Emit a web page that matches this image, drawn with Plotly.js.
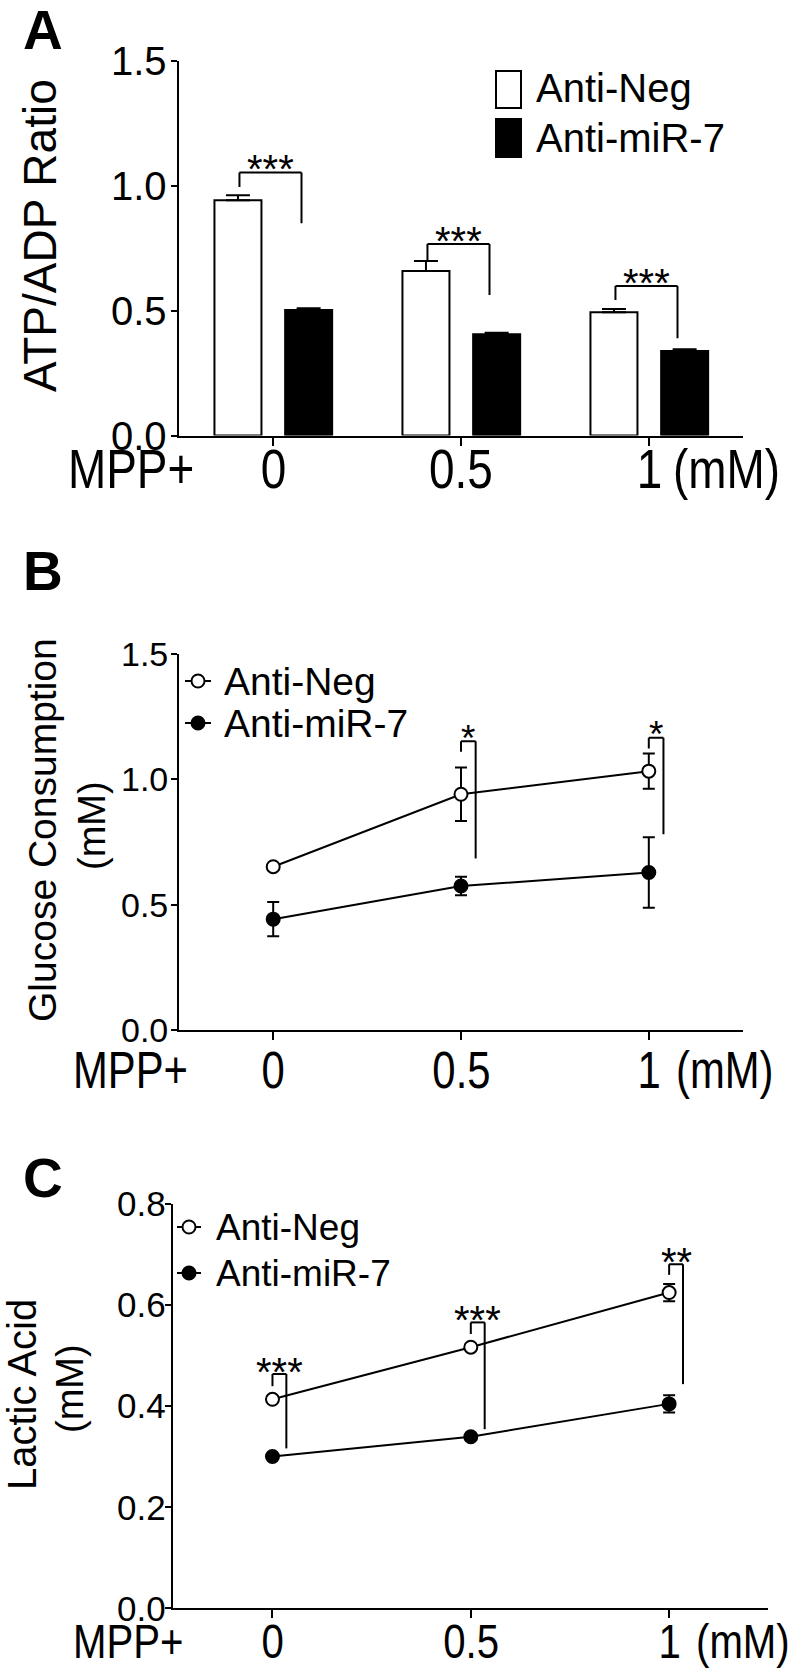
<!DOCTYPE html>
<html><head><meta charset="utf-8">
<script src="https://cdn.plot.ly/plotly-3.0.1.min.js"></script>
<style>html,body{margin:0;padding:0;background:#fff}</style>
</head><body><div id="chart" style="width:800px;height:1670px"></div>
<script>
// ---------------- data ----------------
const doses = ['0', '0.5', '1'];
const seriesNames = ['Anti-Neg', 'Anti-miR-7'];
const doseUnit = '(mM)';
const treatLabel = 'MPP+';

// A: ATP/ADP ratio (mean, +SEM)
const atpNeg = [0.942, 0.658, 0.493];
const atpNegErr = [0.020, 0.040, 0.013];
const atpMir = [0.502, 0.405, 0.338];
const atpMirErr = [0.007, 0.006, 0.007];

// B: glucose consumption (mM)
const glucNeg = [0.651, 0.940, 1.032];
const glucNegErr = [0.010, 0.107, 0.070];
const glucMir = [0.442, 0.574, 0.628];
const glucMirErr = [0.068, 0.037, 0.141];

// C: lactic acid (mM)
const lacNeg = [0.413, 0.516, 0.624];
const lacNegErr = [0.006, 0.006, 0.017];
const lacMir = [0.300, 0.339, 0.404];
const lacMirErr = [0.005, 0.005, 0.017];

// y tick values
const yTicksA = [0, 0.5, 1.0, 1.5];
const yTicksB = [0, 0.5, 1.0, 1.5];
const yTicksC = [0, 0.2, 0.4, 0.6, 0.8];

// significance marks
const sigA = ['***', '***', '***'];
const sigB = ['', '*', '*'];
const sigC = ['***', '***', '**'];

// bracket levels (value units): horizontal bar, end of left leg, end of right leg
const brTopA = [1.053, 0.766, 0.598], brLeftA = [0.995, 0.698, 0.542], brRightA = [0.849, 0.562, 0.389];
const brTopB = [null, 1.151, 1.165], brLeftB = [null, 1.109, 1.122], brRightB = [null, 0.684, 0.781];
const brTopC = [0.463, 0.565, 0.680], brLeftC = [0.439, 0.542, 0.659], brRightC = [0.316, 0.354, 0.443];

// ---------------- fonts ----------------
function fontAvailable(name) {
  const ctx = document.createElement('canvas').getContext('2d');
  const sample = 'MPP+ 0.5 (mM) Anti-miR-7';
  return ['monospace', 'serif'].every(base => {
    ctx.font = '50px ' + base;
    const a = ctx.measureText(sample).width;
    ctx.font = '50px "' + name + '", ' + base;
    return Math.abs(ctx.measureText(sample).width - a) > 0.5;
  });
}
const SANS = 'Liberation Sans, Arial, Helvetica, sans-serif';
const narrowOK = fontAvailable('Liberation Sans Narrow');
const NARROW = narrowOK ? 'Liberation Sans Narrow, Arial Narrow, sans-serif' : SANS;
const SQUEEZE = narrowOK ? 1 : 0.82;   // horizontal compression of the axis-label font
const K = '#000';

// ---------------- layout helpers ----------------
const W = 800, H = 1670;
const PX = x => x / W, PY = y => 1 - y / H;

const frames = {
  A: {x0: 179.3, x1: 743.3, yTop: 60.7, yBot: 435.5},
  B: {x0: 179.3, x1: 742.7, yTop: 653.8, yBot: 1030},
  C: {x0: 173.3, x1: 768.3, yTop: 1203.5, yBot: 1608.3}
};

function xAxis(f, anchor) {
  return {
    domain: [PX(f.x0), PX(f.x1)], anchor: anchor, type: 'category',
    categoryorder: 'array', categoryarray: doses, range: [-0.5, 2.5],
    showline: true, linecolor: K, linewidth: 2,
    ticks: 'outside', ticklen: 8, tickwidth: 2, tickcolor: K, showticklabels: false,
    showgrid: false, zeroline: false, fixedrange: true
  };
}
function yAxis(f, anchor, range, ticks) {
  return {
    domain: [PY(f.yBot), PY(f.yTop)], anchor: anchor, range: range,
    tickmode: 'array', tickvals: ticks,
    showline: true, linecolor: K, linewidth: 2,
    ticks: 'outside', ticklen: 6, tickwidth: 2, tickcolor: K, showticklabels: false,
    showgrid: false, zeroline: false, fixedrange: true
  };
}

// ---------------- traces ----------------
const zeros = doses.map(() => 0);
const traces = [
  {type: 'bar', name: seriesNames[0], x: doses, y: atpNeg, xaxis: 'x', yaxis: 'y',
   marker: {color: '#fff', line: {color: K, width: 2}},
   error_y: {type: 'data', symmetric: false, array: atpNegErr, arrayminus: zeros, color: K, thickness: 2, width: 12},
   showlegend: false, hoverinfo: 'skip'},
  {type: 'bar', name: seriesNames[1], x: doses, y: atpMir, xaxis: 'x', yaxis: 'y',
   marker: {color: K, line: {color: K, width: 2}},
   error_y: {type: 'data', symmetric: false, array: atpMirErr, arrayminus: zeros, color: K, thickness: 2, width: 12},
   showlegend: false, hoverinfo: 'skip'}
];
function lineTrace(name, y, err, xa, ya, open) {
  return {
    type: 'scatter', mode: 'lines+markers', name: name, x: doses, y: y, xaxis: xa, yaxis: ya,
    line: {color: K, width: 2},
    marker: {symbol: 'circle', size: 13, color: open ? '#fff' : K, line: {color: K, width: 2}},
    error_y: {type: 'data', array: err, color: K, thickness: 2, width: 6},
    showlegend: false, hoverinfo: 'skip', cliponaxis: false
  };
}
traces.push(lineTrace(seriesNames[0], glucNeg, glucNegErr, 'x2', 'y2', true));
traces.push(lineTrace(seriesNames[1], glucMir, glucMirErr, 'x2', 'y2', false));
traces.push(lineTrace(seriesNames[0], lacNeg, lacNegErr, 'x3', 'y3', true));
traces.push(lineTrace(seriesNames[1], lacMir, lacMirErr, 'x3', 'y3', false));

// ---------------- annotations & shapes ----------------
const shapes = [], annotations = [], squeezeList = [];
function ptext(text, x, y, size, opts) {
  annotations.push(Object.assign({
    text: text, xref: 'paper', yref: 'paper', x: PX(x), y: PY(y), showarrow: false,
    xanchor: 'center', yanchor: 'middle', borderpad: 0, font: {family: SANS, size: size, color: K}
  }, opts || {}));
}
function narrowText(text, x, y, size) {
  squeezeList.push({idx: annotations.length, anchor: 'left'});
  ptext(text, x, y, size, {xanchor: 'left', font: {family: NARROW, size: size, color: K}});
}
function seg(xa, ya, x0, y0, x1, y1) {
  shapes.push({type: 'line', xref: xa, yref: ya, x0: x0, y0: y0, x1: x1, y1: y1, line: {color: K, width: 2}});
}
function brackets(xa, ya, sig, top, le, re, lOff, rOff, starSize, starShift) {
  doses.forEach((d, i) => {
    if (!sig[i]) return;
    const xl = i + lOff, xr = i + rOff;
    seg(xa, ya, xl, le[i], xl, top[i]);
    seg(xa, ya, xl, top[i], xr, top[i]);
    seg(xa, ya, xr, top[i], xr, re[i]);
    annotations.push({text: sig[i], xref: xa, yref: ya, x: (xl + xr) / 2, y: top[i], showarrow: false,
      xanchor: 'center', yanchor: 'middle', yshift: starShift, borderpad: 0,
      font: {family: SANS, size: starSize, color: K}});
  });
}
brackets('x', 'y', sigA, brTopA, brLeftA, brRightA, -0.18, 0.15, 40, 3);
brackets('x2', 'y2', sigB, brTopB, brLeftB, brRightB, 0, 0.078, 37, 3);
brackets('x3', 'y3', sigC, brTopC, brLeftC, brRightC, 0, 0.07, 40, 2);

// tick labels, placed on the axes' own scales (category index)
function xLabels(xa, yPx, size) {
  doses.forEach((d, i) => {
    squeezeList.push({idx: annotations.length, anchor: 'center'});
    annotations.push({text: d, xref: xa, yref: 'paper', x: i, y: PY(yPx),
      showarrow: false, xanchor: 'center', yanchor: 'middle', borderpad: 0,
      font: {family: NARROW, size: size, color: K}});
  });
}
function yLabels(ya, ticks, xPx, size) {
  ticks.forEach(v => annotations.push({text: v.toFixed(1), xref: 'paper', yref: ya, x: PX(xPx), y: v,
    showarrow: false, xanchor: 'right', yanchor: 'middle', borderpad: 0,
    font: {family: SANS, size: size, color: K}}));
}
xLabels('x', 468, 56);
xLabels('x2', 1070, 51);
xLabels('x3', 1641, 49);
yLabels('y', yTicksA, 168, 40);
yLabels('y2', yTicksB, 169, 34);
yLabels('y3', yTicksC, 167, 35);

// panel letters
ptext('<b>A</b>', 22, 30.5, 55, {xanchor: 'left'});
ptext('<b>B</b>', 22, 571, 55, {xanchor: 'left'});
ptext('<b>C</b>', 22, 1178, 55, {xanchor: 'left'});

// y titles
ptext('ATP/ADP Ratio', 40, 236, 46, {textangle: -90});
ptext('Glucose Consumption', 42, 830, 39, {textangle: -90});
ptext('(mM)', 92, 826, 38, {textangle: -90});
ptext('Lactic Acid', 22, 1395, 40, {textangle: -90});
ptext('(mM)', 70, 1389, 38, {textangle: -90});

// treatment label and unit
narrowText(treatLabel, 67, 468, 56);
narrowText(doseUnit, 672, 468, 56);
narrowText(treatLabel, 72, 1070, 51);
narrowText(doseUnit, 675, 1070, 51);
narrowText(treatLabel, 72, 1641, 49);
narrowText(doseUnit, 695, 1641, 49);

// legend A (bars)
function prect(x0, y0, x1, y1, fill) {
  shapes.push({type: 'rect', xref: 'paper', yref: 'paper', x0: PX(x0), x1: PX(x1), y0: PY(y1), y1: PY(y0),
    fillcolor: fill, line: {color: K, width: 2}});
}
prect(496, 71, 521, 108, '#fff');
prect(496, 119, 521, 157, K);
ptext(seriesNames[0], 535, 88, 40, {xanchor: 'left'});
ptext(seriesNames[1], 535, 138, 40, {xanchor: 'left'});

// legends B, C (line + marker)
function lineKey(cx, cy, half, open) {
  shapes.push({type: 'line', xref: 'paper', yref: 'paper', x0: PX(cx - half), x1: PX(cx + half), y0: PY(cy), y1: PY(cy), line: {color: K, width: 2}});
  const r = 6.5;
  shapes.push({type: 'circle', xref: 'paper', yref: 'paper', x0: PX(cx - r), x1: PX(cx + r), y0: PY(cy + r), y1: PY(cy - r),
    fillcolor: open ? '#fff' : K, line: {color: K, width: 2}});
}
lineKey(198, 681, 13, true);
lineKey(198, 723, 13, false);
ptext(seriesNames[0], 223, 681, 39, {xanchor: 'left'});
ptext(seriesNames[1], 223, 723, 39, {xanchor: 'left'});
lineKey(189, 1227, 12, true);
lineKey(189, 1273, 12, false);
ptext(seriesNames[0], 215, 1227, 37, {xanchor: 'left'});
ptext(seriesNames[1], 215, 1273, 37, {xanchor: 'left'});

const layout = {
  width: W, height: H, margin: {l: 0, r: 0, t: 0, b: 0},
  paper_bgcolor: '#fff', plot_bgcolor: 'rgba(0,0,0,0)',
  showlegend: false, barmode: 'group', bargap: 0.248, bargroupgap: 0.335,
  font: {family: SANS, color: K},
  xaxis: xAxis(frames.A, 'y'),
  yaxis: yAxis(frames.A, 'x', [0, 1.5], yTicksA),
  xaxis2: xAxis(frames.B, 'y2'),
  yaxis2: yAxis(frames.B, 'x2', [0, 1.5], yTicksB),
  xaxis3: xAxis(frames.C, 'y3'),
  yaxis3: yAxis(frames.C, 'x3', [0, 0.8], yTicksC),
  shapes: shapes, annotations: annotations
};
Plotly.newPlot('chart', traces, layout, {staticPlot: true, displayModeBar: false}).then(gd => {
  if (SQUEEZE === 1) return;
  // no narrow face installed: compress the axis-label text horizontally instead
  squeezeList.forEach(item => {
    const g = gd.querySelector('g.annotation[data-index="' + item.idx + '"]');
    const t = g && g.querySelector('text.annotation-text');
    if (!t) return;
    const bb = t.getBBox();
    const cx = item.anchor === 'left' ? bb.x : bb.x + bb.width / 2;
    const prev = t.getAttribute('transform') || '';
    t.setAttribute('transform', (prev + ' translate(' + cx + ',0) scale(' + SQUEEZE + ',1) translate(' + (-cx) + ',0)').trim());
  });
});
</script></body></html>
